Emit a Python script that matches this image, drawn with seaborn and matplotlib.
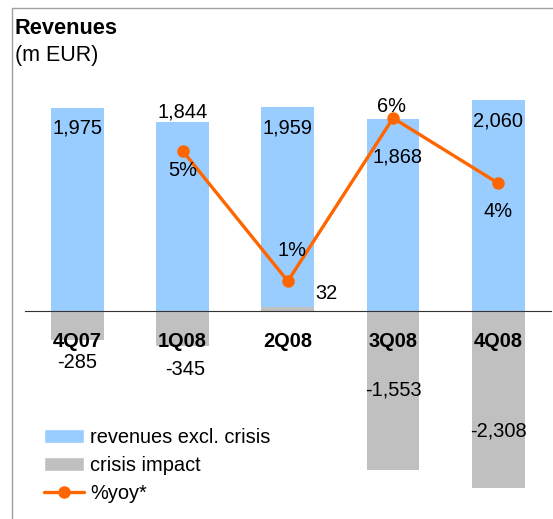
import numpy as np
import matplotlib
matplotlib.use("Agg")
import matplotlib.pyplot as plt
import seaborn as sns
from matplotlib.lines import Line2D
from matplotlib.patches import Patch

quarters = ["4Q07", "1Q08", "2Q08", "3Q08", "4Q08"]
rev_excl = [1975, 1844, 1959, 1868, 2060]
crisis = [-285, -345, 32, -1553, -2308]
yoy = [np.nan, 5, 1, 6, 4]

rev_labels = ["1,975", "1,844", "1,959", "1,868", "2,060"]
crisis_labels = ["-285", "-345", "32", "-1,553", "-2,308"]
yoy_labels = ["", "5%", "1%", "6%", "4%"]

# hand placed label offsets (pixels), like on the original slide
rev_off = [(0, -20), (0, 10), (0, -21), (4, -38), (0, -21)]
crisis_off = [(0, -23), (3, -23), (39, 14), (0, 80), (0, 116)]
yoy_off = [(0, 0), (0, -20), (4, 31), (-2, 12), (0, -28)]

BLUE = "#99ccff"
GREY = "#c0c0c0"
ORANGE = "#ff6600"
W, H = 553, 519
fs = 14.4

sns.set_style("white")
plt.rcParams["font.family"] = ["Liberation Sans", "DejaVu Sans"]
plt.rcParams["text.color"] = "black"

fig = plt.figure(figsize=(W / 100, H / 100), dpi=100)
ax = fig.add_axes([24.6 / W, (H - 488) / H, (551 - 24.6) / W, (488 - 60) / H])

# positive crisis impact sits under the blue bar
bar_top = [r + max(c, 0) for r, c in zip(rev_excl, crisis)]
sns.barplot(x=quarters, y=bar_top, color=BLUE, width=0.5, saturation=1,
            linewidth=0, errorbar=None, ax=ax)
sns.barplot(x=quarters, y=crisis, color=GREY, width=0.5, saturation=1,
            linewidth=0, errorbar=None, ax=ax)

ax2 = ax.twinx()
pos = np.arange(len(quarters))
sns.lineplot(x=pos, y=yoy, color=ORANGE, lw=2.4, marker="o", markersize=9,
             markeredgewidth=0, ax=ax2)

ax.set_ylim(-1730, 2447)
ax2.set_ylim(-5.34, 7.78)
ax.set_xlim(-0.5, len(quarters) - 0.5)

for a in (ax, ax2):
    for s in ["top", "right", "left"]:
        a.spines[s].set_visible(False)
    a.set_yticks([])
    a.set_xlabel("")
    a.set_ylabel("")
ax2.spines["bottom"].set_visible(False)
ax.spines["bottom"].set_position(("data", 0))
ax.spines["bottom"].set_color("#333333")
ax.set_xticks(np.arange(-0.5, len(quarters), 1))
ax.set_xticklabels([])
ax.tick_params(axis="x", direction="out", length=4, width=1, color="#333333")

txt = dict(xycoords=ax.transData, textcoords="offset pixels", ha="center",
           va="center", fontsize=fs, annotation_clip=False, zorder=5)
for i, q in enumerate(quarters):
    ax2.annotate(q, xy=(i, 0), xytext=(0, -31), fontweight="bold", **txt)
    ax2.annotate(rev_labels[i], xy=(i, bar_top[i]), xytext=rev_off[i], **txt)
    ax2.annotate(crisis_labels[i], xy=(i, crisis[i]), xytext=crisis_off[i], **txt)
    if yoy_labels[i]:
        ax2.annotate(yoy_labels[i], xy=(i, yoy[i]), xycoords=ax2.transData,
                     xytext=yoy_off[i], textcoords="offset pixels", ha="center",
                     va="center", fontsize=fs, annotation_clip=False, zorder=5)

fig.text(15 / W, 1 - 34.3 / H, "Revenues", fontsize=15.7, fontweight="bold", va="baseline")
fig.text(15 / W, 1 - 61 / H, "(m EUR)", fontsize=15.5, va="baseline")

# slide frame (only top and left edges are visible)
fig.add_artist(Line2D([11.6 / W, 1], [1 - 8.3 / H] * 2, color="#a0a0a0", lw=1))
fig.add_artist(Line2D([11.6 / W] * 2, [0, 1 - 8.3 / H], color="#a0a0a0", lw=1))

handles = [
    Patch(facecolor=BLUE, label="revenues excl. crisis"),
    Patch(facecolor=GREY, label="crisis impact"),
    Line2D([], [], color=ORANGE, lw=2.4, marker="o", markersize=9,
           markeredgewidth=0, label="%yoy*"),
]
fig.legend(handles=handles, loc="upper left", bbox_to_anchor=(44 / W, 1 - 428 / H),
           frameon=False, borderpad=0, borderaxespad=0, handlelength=2.0,
           handletextpad=0.3, labelspacing=0.45, handleheight=0.65, fontsize=fs)

fig.savefig("out.png", dpi=100)
